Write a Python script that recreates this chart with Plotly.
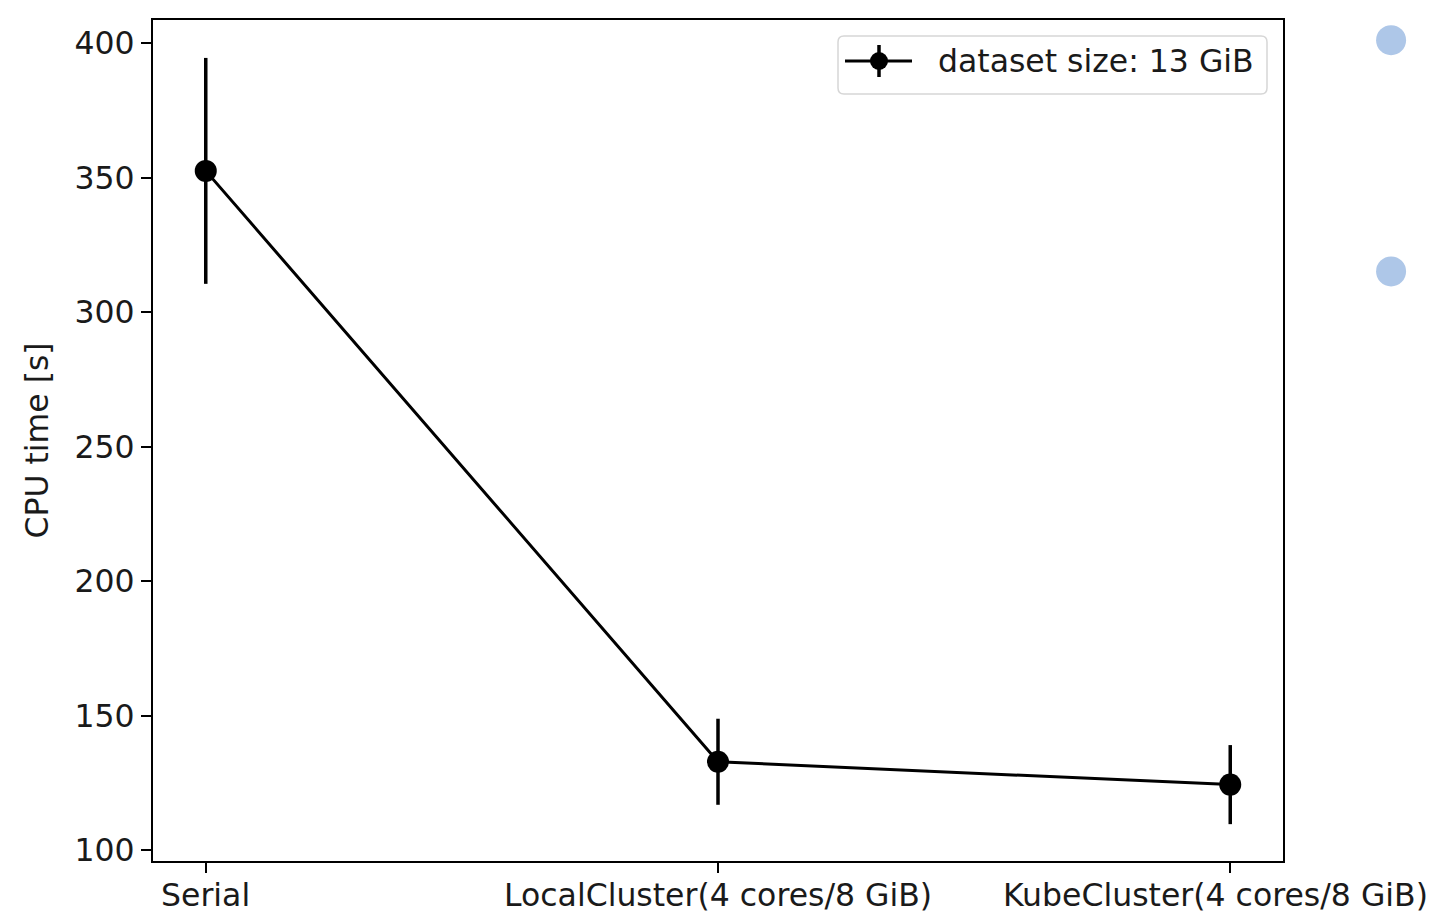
import plotly.graph_objects as go

categories = ["Serial", "LocalCluster(4 cores/8 GiB)", "KubeCluster(4 cores/8 GiB)"]
cpu_time = [352.5, 132.8, 124.3]
cpu_err = [42.0, 16.0, 14.7]
series_name = "dataset size: 13 GiB"

# stray points to the right of the axes (light blue markers in the reference)
extra_x = [2.314, 2.314]
extra_y = [401.1, 315.1]

xpos = list(range(len(categories)))

# ---- layout geometry (pixels) ----
W, H = 1430, 911
L, R_EDGE, T, B_EDGE = 153, 1283, 20, 861
XR = [-0.103, 2.103]
YR = [95.9, 408.6]
pw = W - L
ph = B_EDGE - T
px_per_unit = (R_EDGE - L) / (XR[1] - XR[0])
x2_left_px = 1300
x2_range = [XR[0] + (x2_left_px - L) / px_per_unit, XR[0] + (W - L) / px_per_unit]
label_shift = [0, 0, -15]   # horizontal nudge of x tick labels (px)
label_mid_px = 895          # vertical centre of x tick labels


def px(xp):
    return (xp - L) / pw


def py(yp):
    return (B_EDGE - yp) / ph


FONT = "DejaVu Sans, sans-serif"
FS = 31.5
TXT = "#1a1a1a"

fig = go.Figure()
fig.add_trace(go.Scatter(
    x=xpos, y=cpu_time, mode="lines+markers", name=series_name,
    line=dict(color="black", width=3),
    marker=dict(color="black", size=22),
    error_y=dict(type="data", array=cpu_err, visible=True, color="black",
                 thickness=3.5, width=0),
    showlegend=False,
))
fig.add_trace(go.Scatter(
    x=extra_x, y=extra_y, mode="markers", showlegend=False,
    xaxis="x2", yaxis="y",
    marker=dict(color="#aec7e8", size=30, line=dict(width=0)),
    hoverinfo="skip",
))

# ---- custom matplotlib-like legend ----
lx0, lx1, ly0, ly1, rad = 838, 1267, 36, 94, 6


def rrect(x0, y0, x1, y1, r):
    return (f"M {px(x0 + r)},{py(y0)} L {px(x1 - r)},{py(y0)} "
            f"Q {px(x1)},{py(y0)} {px(x1)},{py(y0 + r)} "
            f"L {px(x1)},{py(y1 - r)} Q {px(x1)},{py(y1)} {px(x1 - r)},{py(y1)} "
            f"L {px(x0 + r)},{py(y1)} Q {px(x0)},{py(y1)} {px(x0)},{py(y1 - r)} "
            f"L {px(x0)},{py(y0 + r)} Q {px(x0)},{py(y0)} {px(x0 + r)},{py(y0)} Z")


shapes = [
    dict(type="path", xref="paper", yref="paper", path=rrect(lx0, ly0, lx1, ly1, rad),
         fillcolor="rgba(255,255,255,0.8)", line=dict(color="#d6d6d6", width=1.5), layer="above"),
    dict(type="line", xref="paper", yref="paper", x0=px(845), x1=px(912), y0=py(61), y1=py(61),
         line=dict(color="black", width=3), layer="above"),
    dict(type="line", xref="paper", yref="paper", x0=px(879), x1=px(879), y0=py(45), y1=py(77),
         line=dict(color="black", width=3.5), layer="above"),
    dict(type="circle", xref="paper", yref="paper", x0=px(870), x1=px(888), y0=py(52), y1=py(70),
         fillcolor="black", line=dict(color="black", width=0), layer="above"),
]
annotations = [
    dict(text=series_name, xref="paper", yref="paper", x=px(936), y=py(61),
         xanchor="left", yanchor="middle", showarrow=False,
         font=dict(family=FONT, size=FS, color=TXT)),
]
# x tick labels as annotations tied to the category positions
for xi, lab, sh in zip(xpos, categories, label_shift):
    annotations.append(dict(
        text=lab, xref="x", yref="paper", x=xi, y=py(label_mid_px),
        xanchor="center", yanchor="middle", xshift=sh, showarrow=False,
        font=dict(family=FONT, size=FS, color=TXT)))

fig.update_layout(
    width=W, height=H,
    margin=dict(l=L, r=0, t=T, b=H - B_EDGE, autoexpand=False),
    paper_bgcolor="white", plot_bgcolor="white",
    font=dict(family=FONT, size=FS, color=TXT),
    showlegend=False,
    shapes=shapes, annotations=annotations,
    xaxis=dict(domain=[0, (R_EDGE - L) / pw], range=XR, tickvals=xpos,
               showticklabels=False,
               showgrid=False, zeroline=False, showline=True, linecolor="black",
               linewidth=2.2, mirror=True, ticks="outside", ticklen=10,
               tickwidth=2, tickcolor="black", automargin=False),
    xaxis2=dict(domain=[(x2_left_px - L) / pw, 1], range=x2_range, anchor="y",
                visible=False, showgrid=False, zeroline=False),
    yaxis=dict(range=YR, tickvals=[100, 150, 200, 250, 300, 350, 400],
               showgrid=False, zeroline=False, showline=True, linecolor="black",
               linewidth=2.2, mirror=True, ticks="outside", ticklen=10,
               tickwidth=2, tickcolor="black", automargin=False,
               tickfont=dict(size=FS, color=TXT),
               title=dict(text="CPU time [s]", standoff=16, font=dict(size=FS, color=TXT))),
)
fig.write_html("out.html")
